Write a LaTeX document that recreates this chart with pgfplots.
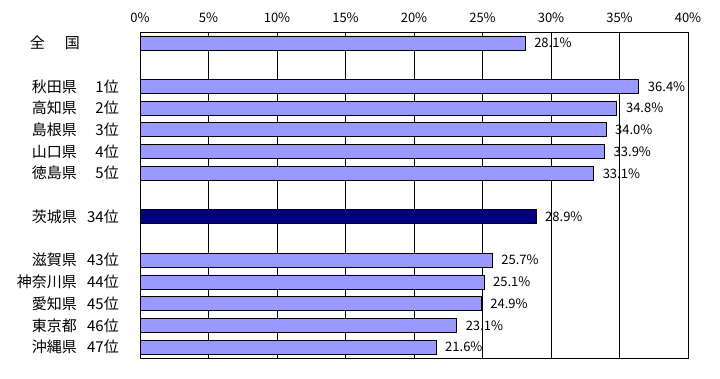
\documentclass[border=0pt]{standalone}
\usepackage{fontspec}
\setmainfont{Noto Sans CJK JP}
\usepackage{pgfplots}
\pgfplotsset{compat=1.18}
\definecolor{barlight}{HTML}{9999FF}
\definecolor{bardark}{HTML}{000080}
\newcommand{\pl}[2]{\makebox[50pt][r]{#1}\hspace{12pt}\makebox[30pt][r]{#2}}
\begin{document}
\begin{tikzpicture}
\useasboundingbox (0,0) rectangle (720pt,379pt);
\begin{axis}[
  at={(140pt,21pt)}, anchor=south west,
  scale only axis, width=548pt, height=326pt,
  xmin=0, xmax=40, ymin=-0.5, ymax=14.5, y dir=reverse,
  xbar, bar width=14pt, bar shift=0pt,
  xtick={0,5,...,40},
  xticklabel pos=upper,
  xticklabel={\fontsize{13}{15}\selectfont\pgfmathprintnumber{\tick}\%},
  xticklabel style={yshift=6pt},
  xmajorgrids, major grid style={black, line width=0.8pt},
  major tick length=0pt,
  axis line style={black, line width=0.8pt},
  ytick={0,2,3,4,5,6,8,10,11,12,13,14},
  yticklabels={
    {\makebox[92pt][l]{\hspace{3pt}全\hspace{20pt}国}},
    {\pl{秋田県}{1位}},
    {\pl{高知県}{2位}},
    {\pl{島根県}{3位}},
    {\pl{山口県}{4位}},
    {\pl{徳島県}{5位}},
    {\pl{茨城県}{34位}},
    {\pl{滋賀県}{43位}},
    {\pl{神奈川県}{44位}},
    {\pl{愛知県}{45位}},
    {\pl{東京都}{46位}},
    {\pl{沖縄県}{47位}}},
  yticklabel style={font=\fontsize{15}{17}\selectfont, anchor=east, inner sep=0pt, xshift=-21pt},
  /pgf/number format/assume math mode=true,
  nodes near coords={\pgfmathprintnumber[fixed, fixed zerofill, precision=1]{\pgfplotspointmeta}\%},
  nodes near coords style={font=\fontsize{13}{15}\selectfont, anchor=west, inner sep=0pt, xshift=9pt},
]
\addplot[draw=black, fill=barlight, line width=0.6pt, point meta=x]
  coordinates {(28.1,0) (36.4,2) (34.8,3) (34.0,4) (33.9,5) (33.1,6)
               (25.7,10) (25.1,11) (24.9,12) (23.1,13) (21.6,14)};
\addplot[draw=black, fill=bardark, line width=0.6pt, point meta=x]
  coordinates {(28.9,8)};
\end{axis}
\end{tikzpicture}
\end{document}
